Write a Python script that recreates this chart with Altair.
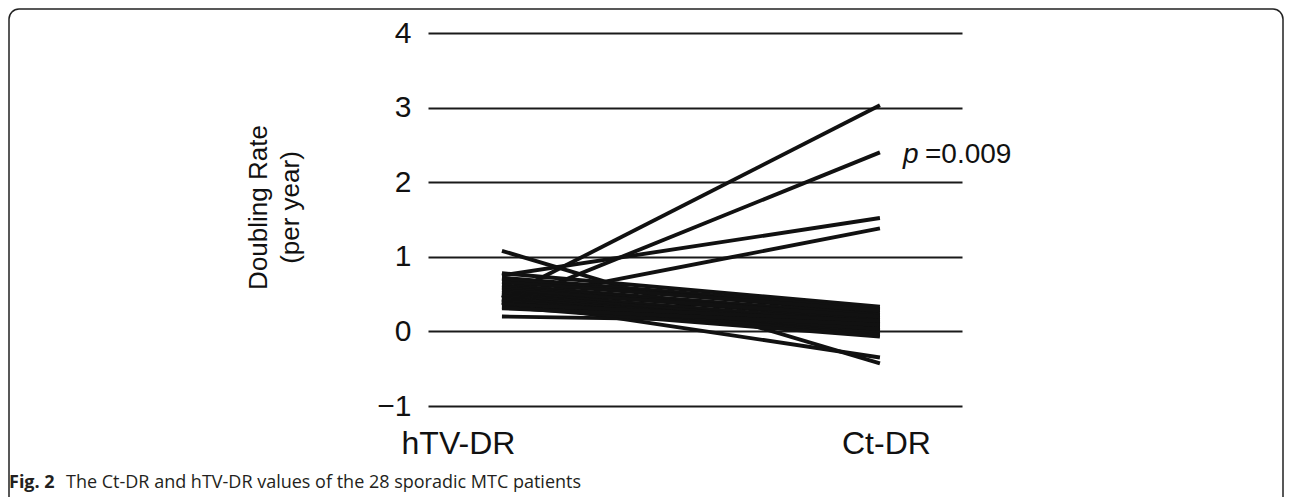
import altair as alt
import pandas as pd

categories = ["hTV-DR", "Ct-DR"]

htv_dr = [0.45, 0.35, 0.75, 0.40, 1.08, 0.41, 0.20,
          0.78, 0.72, 0.70, 0.66, 0.62, 0.60, 0.58, 0.55, 0.53, 0.51,
          0.50, 0.48, 0.47, 0.45, 0.43, 0.42, 0.40, 0.38, 0.36, 0.33, 0.31]
ct_dr = [3.03, 2.40, 1.52, 1.38, -0.43, -0.35, 0.12,
         0.33, 0.30, 0.25, 0.28, 0.22, 0.18, 0.15, 0.20, 0.10, 0.12,
         0.05, 0.08, 0.02, 0.00, 0.06, -0.02, 0.03, -0.05, 0.14, -0.07, 0.09]

y_ticks = [-1, 0, 1, 2, 3, 4]
y_title = ["Doubling Rate", "(per year)"]
p_label = "p"
p_value = "=0.009"
caption_bold = "Fig. 2"
caption_text = "The Ct-DR and hTV-DR values of the 28 sporadic MTC patients"

rows = []
for i, (a, b) in enumerate(zip(htv_dr, ct_dr)):
    rows.append({"patient": i, "measure": categories[0], "value": a})
    rows.append({"patient": i, "measure": categories[1], "value": b})
df = pd.DataFrame(rows)

W, H = 534, 373

x_scale = alt.Scale(type="point", domain=categories, padding=0.2064, align=0.474)
y_scale = alt.Scale(domain=[-1, 4], nice=False, zero=False)

lines = alt.Chart(df).mark_line(color="#111111", strokeWidth=3.9).encode(
    x=alt.X("measure:N", scale=x_scale, sort=categories,
            axis=alt.Axis(title=None, domain=False, ticks=False, grid=False,
                          labelAngle=0, labelFont="Liberation Sans",
                          labelFontSize=32, labelColor="#111111",
                          labelPadding=22, labelBaseline="top",
                          labelOffset={"condition": {"test": "datum.value === 'hTV-DR'", "value": -44},
                                       "value": 6})),
    y=alt.Y("value:Q", scale=y_scale,
            axis=alt.Axis(values=y_ticks, format="d", title=y_title, domain=False, ticks=False,
                          grid=True, gridColor="#1a1a1a", gridWidth=2,
                          labelFont="Liberation Sans", labelFontSize=30,
                          labelColor="#111111", labelPadding=17,
                          titleFont="Liberation Sans", titleFontSize=26,
                          titleFontWeight="normal", titleColor="#111111",
                          titleX=-170, titleY=174, titleAngle=270,
                          titleAlign="center", titleBaseline="middle",
                          titleLineHeight=32)),
    detail="patient:N",
)

one = pd.DataFrame({"k": [0]})

p_text = alt.Chart(one).mark_text(
    text=p_label, font="Liberation Sans", fontSize=28, fontStyle="italic",
    align="left", baseline="middle", color="#111111"
).encode(x=alt.value(475), y=alt.datum(2.36))

pv_text = alt.Chart(one).mark_text(
    text=p_value, font="Liberation Sans", fontSize=28,
    align="left", baseline="middle", color="#111111"
).encode(x=alt.value(497), y=alt.datum(2.36))

cap1 = alt.Chart(one).mark_text(
    text=caption_bold, font="Open Sans", fontSize=18, fontWeight="bold",
    align="left", baseline="middle", color="#231f20"
).encode(x=alt.value(-419), y=alt.value(450))

cap2 = alt.Chart(one).mark_text(
    text=caption_text, font="Open Sans", fontSize=18,
    align="left", baseline="middle", color="#231f20"
).encode(x=alt.value(-362), y=alt.value(450))

frame = alt.Chart(one).mark_rect(
    fill=None, stroke="#222222", strokeWidth=1.5, cornerRadius=10
).encode(x=alt.value(-419), x2=alt.value(855), y=alt.value(-24), y2=alt.value(480))

chart = alt.layer(frame, lines, p_text, pv_text, cap1, cap2).properties(
    width=W, height=H,
    padding={"left": 420, "top": 25, "right": 322, "bottom": 91},
    autosize=alt.AutoSizeParams(type="none"),
    background="white",
).configure_view(stroke=None)

chart.save("out.html", embed_options={"renderer": "svg", "actions": False})
